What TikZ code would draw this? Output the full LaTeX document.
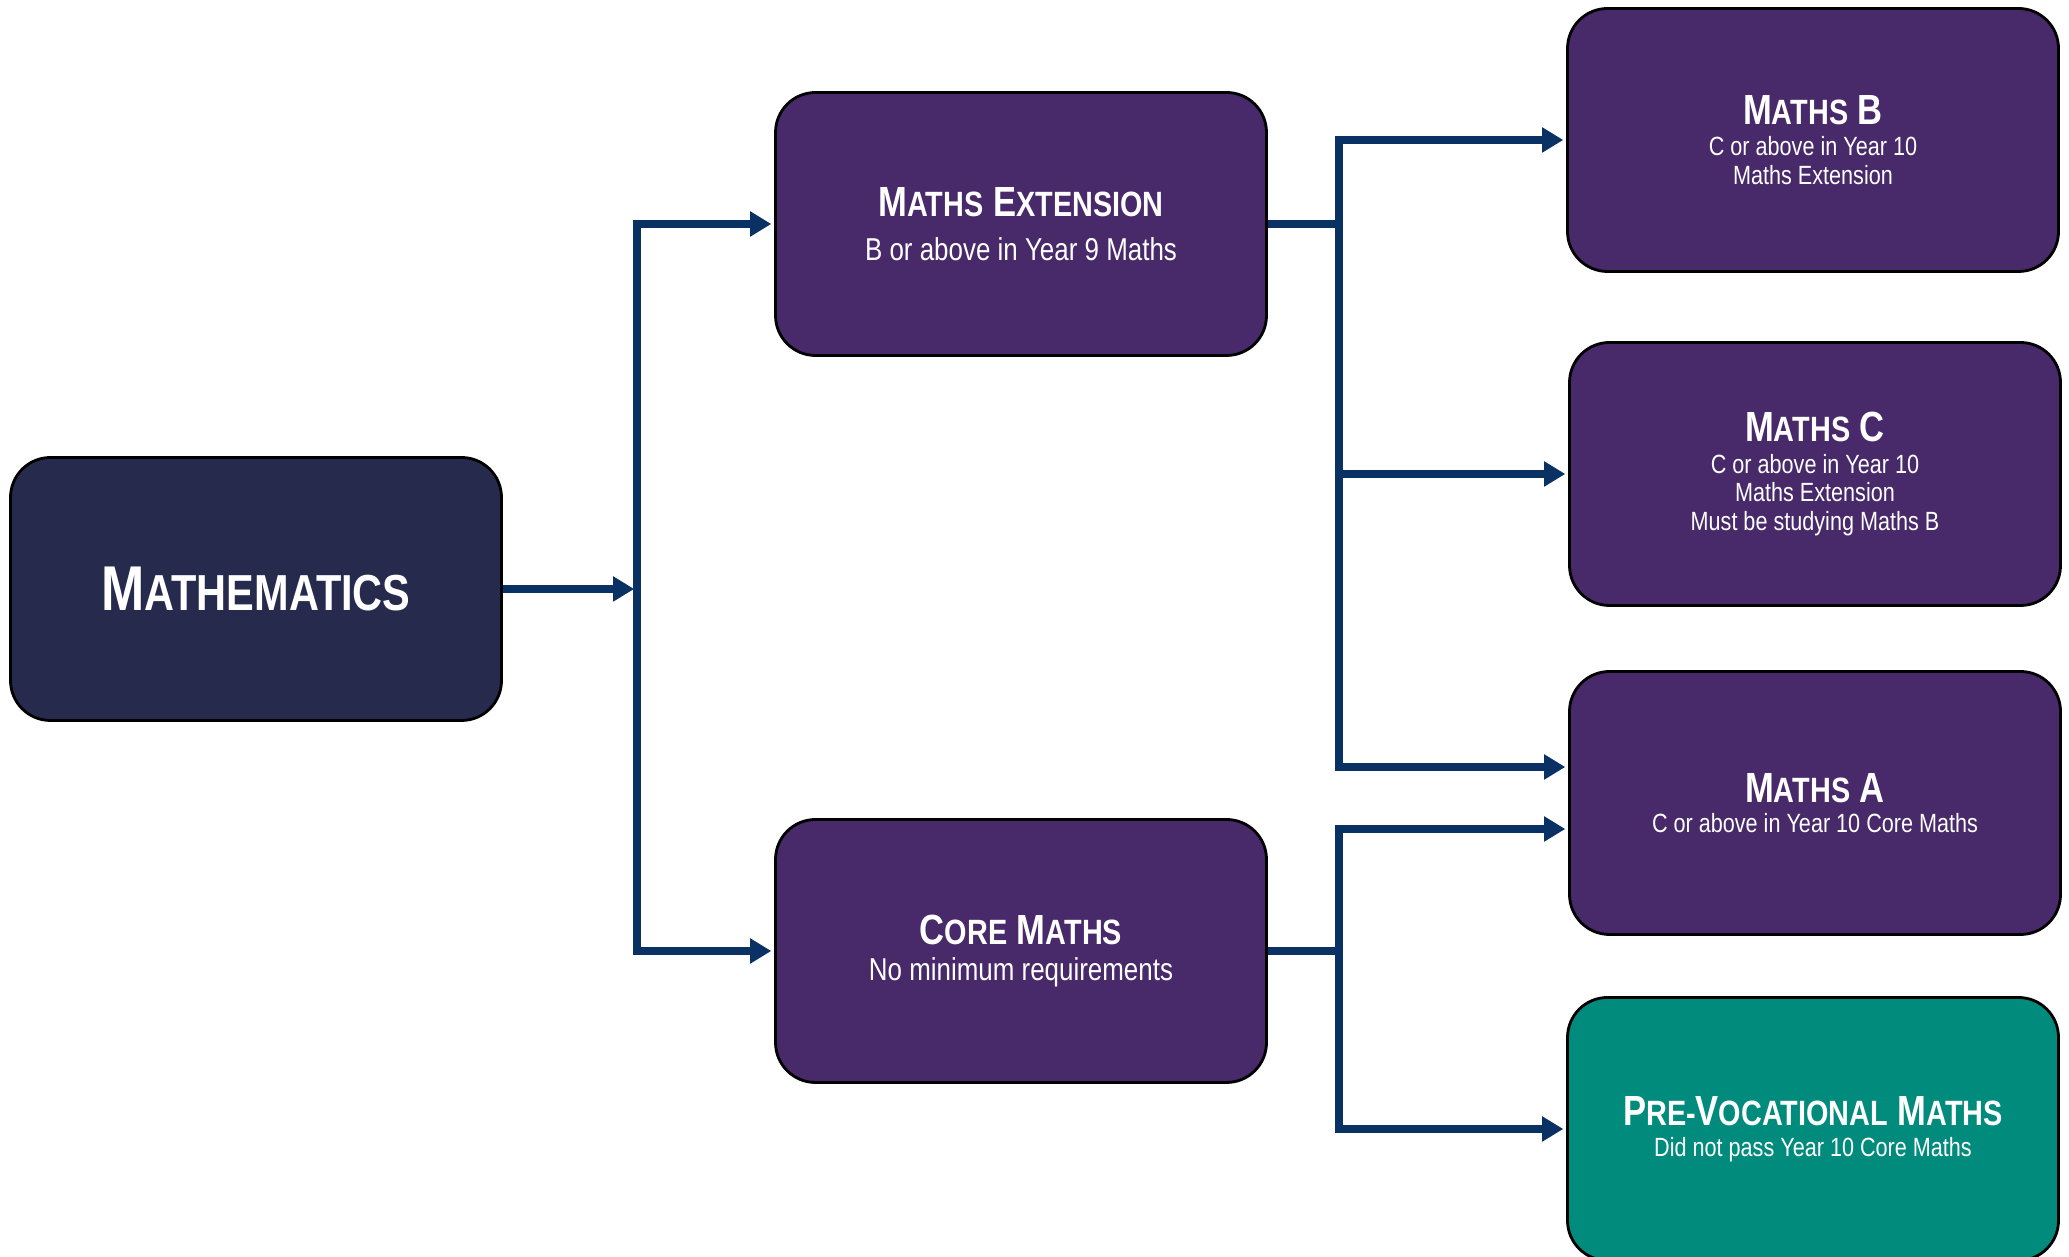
\documentclass[tikz,border=0pt]{standalone}
\usepackage{fontspec}
\setmainfont{Liberation Sans}[FakeStretch=0.82]
\usepackage{relsize}
\usetikzlibrary{positioning, arrows.meta}
\definecolor{wurzelblau}{HTML}{262B4E}
\definecolor{kurslila}{HTML}{48296A}
\definecolor{berufgruen}{HTML}{008B7D}
\definecolor{pfeilblau}{HTML}{0A3163}
\newcommand{\lc}[1]{\textscale{0.8}{#1}}
\newcommand{\titel}{\bfseries\fontsize{12}{14}\selectfont}
\tikzset{fach/.style={rectangle, draw=black, line width=0.8pt, rounded corners=4mm,
		minimum width=4.91cm, minimum height=2.63cm, inner sep=0pt,
		text=white, align=center},
	wurzel/.style={fach, fill=wurzelblau},
	kurs/.style={fach, fill=kurslila, font=\fontsize{9}{10}\selectfont},
	ziel/.style={fach, fill=kurslila, font=\fontsize{7.5}{8.1}\selectfont},
	beruf/.style={ziel, fill=berufgruen},
	stiel/.style={draw=pfeilblau, line width=2.1pt},
	pfeil/.style={stiel, -{Triangle[length=6pt, width=6.8pt]}, shorten >=0.8pt} }
\begin{document}
\begin{tikzpicture}
	\useasboundingbox (0,0) rectangle (20.69,-12.57);

	\node (maths) [wurzel] at (2.56,-5.89) {\bfseries\fontsize{18}{20}\selectfont M\lc{ATHEMATICS}};

	\node (ext) [kurs] at (10.21,-2.24) {{\titel M\lc{ATHS} E\lc{XTENSION}}\\[2.4pt] B or above in Year 9 Maths};
	\node (core) [kurs] at (10.21,-9.51) {{\titel C\lc{ORE} M\lc{ATHS}}\\ No minimum requirements};

	\node (mb) [ziel] at (18.13,-1.40) {{\titel M\lc{ATHS} B}\\[0.9pt] C or above in Year 10\\ Maths Extension};
	\node (mc) [ziel] at (18.15,-4.74) {{\titel M\lc{ATHS} C}\\[0.9pt] C or above in Year 10\\ Maths Extension\\ Must be studying Maths B};
	\node (ma) [ziel] at (18.15,-8.03) {{\titel M\lc{ATHS} A}\\[0.4pt] C or above in Year 10 Core Maths};
	\node (pv) [beruf] at (18.13,-11.29) {{\titel P\lc{RE-}V\lc{OCATIONAL} M\lc{ATHS}}\\[0.7pt] Did not pass Year 10 Core Maths};

	% Verzweigungen
	\coordinate (gabel) at (6.37,0);
	\coordinate (weiche) at (13.39,0);

	\draw [pfeil] (maths) -- (gabel |- maths);
	\draw [pfeil] (gabel |- maths) |- (ext);
	\draw [pfeil] (gabel |- maths) |- (core);

	\draw [stiel] (ext) -- (weiche |- ext);
	\draw [pfeil] (weiche |- ext) |- (mb);
	\draw [pfeil] (weiche |- ext) |- (mc);
	\draw [pfeil] (weiche |- ext) |- ([yshift=3.6mm]ma.west);

	\draw [stiel] (core) -- (weiche |- core);
	\draw [pfeil] (weiche |- core) |- ([yshift=-2.6mm]ma.west);
	\draw [pfeil] (weiche |- core) |- (pv);
\end{tikzpicture}
\end{document}
